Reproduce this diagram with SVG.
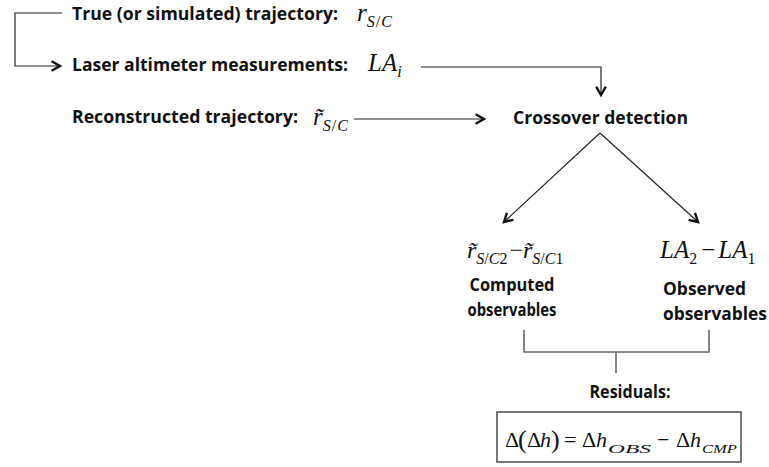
<svg xmlns="http://www.w3.org/2000/svg" width="769" height="467" viewBox="0 0 769 467">
<style>
.lbl{font-family:"Open Sans",Lato,"Liberation Sans",sans-serif;font-weight:700;font-size:17px;fill:#111}
.m{font-family:"Liberation Serif","DejaVu Serif",serif;fill:#111}
.it{font-style:italic}
.sub{font-size:16px}
.ln{fill:none;stroke:#222;stroke-width:1.2}
.gr{fill:none;stroke:#666;stroke-width:1.6}
</style>
<defs>
<marker id="ah" markerUnits="userSpaceOnUse" markerWidth="12" markerHeight="12" refX="8" refY="5" orient="auto" viewBox="0 0 10 10">
<path d="M1,1 L8,5 L1,9" fill="none" stroke="#111" stroke-width="2"/>
</marker>
</defs>
<rect width="769" height="467" fill="#fff"/>
<g id="connectors">
<path class="ln" d="M62,13 H15 V66 H60" marker-end="url(#ah)"/>
<path class="ln" d="M421,67 H601 V95" marker-end="url(#ah)"/>
<path class="ln" d="M354,119 H484" marker-end="url(#ah)"/>
<path class="ln" d="M600,133 L504,222" marker-end="url(#ah)"/>
<path class="ln" d="M600,133 L698,222" marker-end="url(#ah)"/>
<path class="gr" d="M524,330 V352 H709 V330 M616,352 V373"/>
</g>
<g id="true-trajectory">
<text class="lbl" x="72" y="20" textLength="266" lengthAdjust="spacingAndGlyphs">True (or simulated) trajectory:</text>
<text class="m" x="357" y="21" font-size="25"><tspan class="it">r</tspan><tspan class="sub it" dy="6">S</tspan><tspan class="sub" dx="1">/</tspan><tspan class="sub it" dx="1">C</tspan></text>
</g>
<g id="laser-altimeter">
<text class="lbl" x="72" y="71" textLength="276" lengthAdjust="spacingAndGlyphs">Laser altimeter measurements:</text>
<text class="m it" x="368" y="71" font-size="25">LA<tspan class="sub" dy="6" font-size="13">i</tspan></text>
</g>
<g id="reconstructed-trajectory">
<text class="lbl" x="72" y="123" textLength="226" lengthAdjust="spacingAndGlyphs">Reconstructed trajectory:</text>
<text class="m" x="313" y="125" font-size="25"><tspan class="it">r̃</tspan><tspan class="sub it" dy="6">S</tspan><tspan class="sub" dx="1">/</tspan><tspan class="sub it" dx="1">C</tspan></text>
</g>
<g id="crossover-detection">
<text class="lbl" x="513" y="124" textLength="175" lengthAdjust="spacingAndGlyphs">Crossover detection</text>
</g>
<g id="computed-observables">
<text class="m" x="467" y="258" font-size="24"><tspan class="it">r̃</tspan><tspan class="sub it" dy="6">S</tspan><tspan class="sub">/</tspan><tspan class="sub it">C</tspan><tspan class="sub">2</tspan><tspan dy="-6" dx="2">−</tspan><tspan class="it">r̃</tspan><tspan class="sub it" dy="6">S</tspan><tspan class="sub">/</tspan><tspan class="sub it">C</tspan><tspan class="sub">1</tspan></text>
<text class="lbl" x="512" y="291" text-anchor="middle" textLength="85" lengthAdjust="spacingAndGlyphs">Computed</text>
<text class="lbl" x="512" y="316" text-anchor="middle" textLength="89" lengthAdjust="spacingAndGlyphs">observables</text>
</g>
<g id="observed-observables">
<text class="m" x="660" y="258" font-size="25"><tspan class="it">LA</tspan><tspan class="sub" dy="6">2</tspan><tspan dy="-6" dx="4">−</tspan><tspan class="it" dx="3">LA</tspan><tspan class="sub" dy="6">1</tspan></text>
<text class="lbl" x="663" y="295" textLength="83" lengthAdjust="spacingAndGlyphs">Observed</text>
<text class="lbl" x="663" y="320" textLength="104" lengthAdjust="spacingAndGlyphs">observables</text>
</g>
<g id="residuals">
<text class="lbl" x="630" y="398" text-anchor="middle" textLength="81" lengthAdjust="spacingAndGlyphs">Residuals:</text>
<rect x="497" y="412" width="244" height="50" fill="none" stroke="#555" stroke-width="1.6"/>
<text class="m" y="447" font-size="22"><tspan x="505">Δ</tspan><tspan x="518" font-size="26" y="448">(</tspan><tspan x="527" y="447">Δ</tspan><tspan x="540" class="it">h</tspan><tspan x="551" font-size="26" y="448">)</tspan><tspan x="564" y="447">=</tspan><tspan x="582">Δ</tspan><tspan x="596" class="it">h</tspan><tspan x="608" y="453" class="it" font-size="13" textLength="43" lengthAdjust="spacingAndGlyphs">OBS</tspan><tspan x="657" y="447">−</tspan><tspan x="676">Δ</tspan><tspan x="690" class="it">h</tspan><tspan x="702" y="453" class="it" font-size="13" textLength="35" lengthAdjust="spacingAndGlyphs">CMP</tspan></text>
</g>
</svg>
